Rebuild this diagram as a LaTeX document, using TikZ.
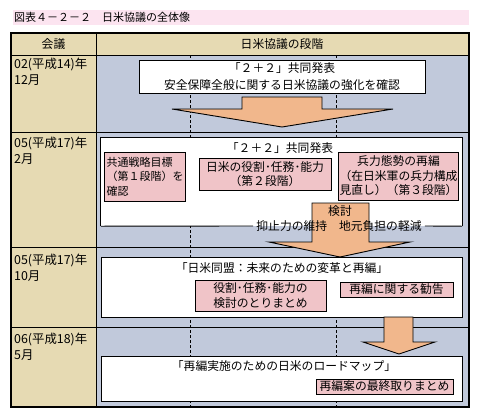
\documentclass[tikz,border=0pt]{standalone}
\usepackage{fontspec}
\setmainfont{Noto Sans CJK JP}
\definecolor{titlepink}{RGB}{252,228,240}
\definecolor{tanbg}{RGB}{230,218,179}
\definecolor{bluegrey}{RGB}{193,201,219}
\definecolor{boxpink}{RGB}{240,196,200}
\definecolor{arrowsalmon}{RGB}{241,183,140}
\begin{document}
\begin{tikzpicture}[x=1pt,y=-1pt,
  base/.style={font=\fontsize{11.8}{16}\selectfont, inner sep=0pt},
  txt/.style={base, align=center},
  datetxt/.style={inner sep=0pt, align=left, anchor=west, font=\fontsize{12.4}{16}\selectfont},
  whitebox/.style={draw, fill=white, line width=0.9pt, inner sep=0pt, align=center, font=\fontsize{11.8}{17}\selectfont},
  pinkbox/.style={draw, fill=boxpink, line width=0.9pt, inner sep=1pt, align=center, font=\fontsize{11.8}{14.5}\selectfont},
  bigarrow/.style={draw, fill=arrowsalmon, line width=0.9pt, line join=miter},
  rowrule/.style={line width=1pt},
  guide/.style={line width=0.7pt, dash pattern=on 3pt off 2pt}
]
\useasboundingbox (0,0) rectangle (479,418);
% title band
\fill[titlepink] (13,10) rectangle (469,25);
\node[inner sep=0pt, anchor=west, font=\fontsize{11}{14}\selectfont] (title) at (14,17.5) {図表４－２－２　日米協議の全体像};
% table backgrounds
\fill[tanbg] (11,33) rectangle (469,407);
\fill[bluegrey] (96,55) rectangle (469,407);
% dashed guides
\draw[guide] (190,55) -- (190,407);
\draw[guide] (336,55) -- (336,407);
% rules
\draw[rowrule] (11,55) -- (469,55);
\draw[rowrule] (11,132) -- (469,132);
\draw[rowrule] (11,247) -- (469,247);
\draw[rowrule] (11,327) -- (469,327);
\draw[rowrule] (96,33) -- (96,407);
\draw[line width=1.3pt] (11,33) rectangle (469,407);
% header
\node[txt] (h1) at (53.5,44) {会議};
\node[txt] (h2) at (282,44) {日米協議の段階};
% left column dates
\node[datetxt] (d1) at (14,71.5) {02(平成14)年\\12月};
\node[datetxt] (d2) at (14,150.5) {05(平成17)年\\2月};
\node[datetxt] (d3) at (14,268) {05(平成17)年\\10月};
\node[datetxt] (d4) at (14,347) {06(平成18)年\\5月};
% row 1
\node[whitebox, minimum width=286pt, minimum height=33pt] (r1) at (282,76.5)
  {「２＋２」共同発表\\安全保障全般に関する日米協議の強化を確認};
\draw[bigarrow] (242,97) -- (322,97) -- (322,109) -- (393,109) -- (282,127) -- (172,109) -- (242,109) -- cycle;
% row 2
\node[fill=white, minimum width=361pt, minimum height=88pt, inner sep=0pt] (r2) at (281.5,182) {};
\draw[line width=0.9pt] (r2.south west) -- (r2.north west) -- (r2.north east) -- (r2.south east);
\node[txt] (r2t) at (280,148) {「２＋２」共同発表};
\node[pinkbox, align=left, inner sep=2pt, font=\fontsize{11}{14.5}\selectfont, minimum width=80pt, minimum height=49pt] (p1) at (145,176.5)
  {共通戦略目標\\（第１段階）を\\確認};
\node[pinkbox, minimum width=132pt, minimum height=32pt] (p2) at (265,174)
  {日米の役割･任務･能力\\（第２段階）};
\node[pinkbox, minimum width=119pt, minimum height=48pt] (p3) at (398.5,176)
  {兵力態勢の再編\\（在日米軍の兵力構成\\見直し）（第３段階）};
% row 3 box
\node[whitebox, minimum width=361pt, minimum height=60pt] (r3) at (281.5,287) {};
% arrow 2
\draw[bigarrow] (312,203) -- (369,203) -- (369,242) -- (410,242) -- (340,257) -- (269,242) -- (312,242) -- cycle;
\node[txt] (kento) at (340,211) {検討};
\node[base, inner xsep=3pt] (deter) at (339,226) {抑止力の維持　地元負担の軽減};
\draw[line width=0.9pt] (r2.south west) -- (deter.west);
\draw[line width=0.9pt] (deter.east) -- (r2.south east);
% row 3 content
\node[txt] (r3t) at (282,268) {「日米同盟：未来のための変革と再編」};
\node[pinkbox, minimum width=131pt, minimum height=31pt] (p4) at (260.5,295.5)
  {役割･任務･能力の\\検討のとりまとめ};
\node[pinkbox, minimum width=113pt, minimum height=15pt, inner sep=0pt] (p5) at (396.5,289.5)
  {再編に関する勧告};
% arrow 3
\draw[bigarrow] (384,317) -- (413,317) -- (413,342) -- (435,342) -- (399,354) -- (363,342) -- (384,342) -- cycle;
% row 4
\node[whitebox, minimum width=361pt, minimum height=45pt] (r4) at (281.5,378.5) {};
\node[txt] (r4t) at (284,366) {「再編実施のための日米のロードマップ」};
\node[pinkbox, minimum width=137pt, minimum height=15pt, inner sep=0pt] (p6) at (384.5,386.5)
  {再編案の最終取りまとめ};
\end{tikzpicture}
\end{document}
